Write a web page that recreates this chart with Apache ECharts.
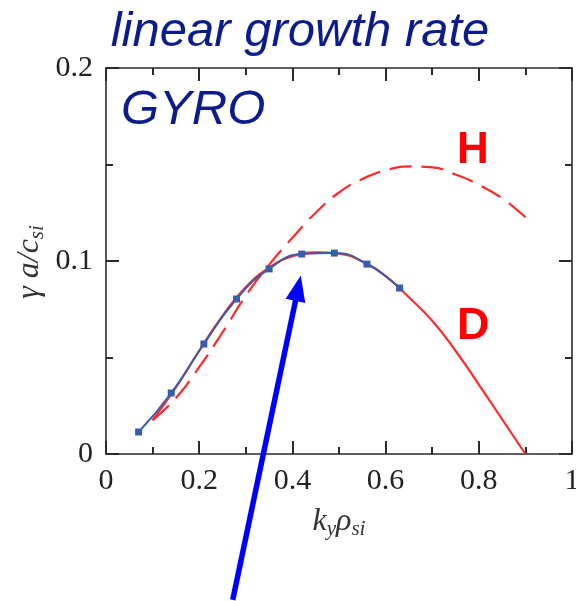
<!DOCTYPE html>
<html>
<head>
<meta charset="utf-8">
<script src="https://cdn.jsdelivr.net/npm/echarts@6/dist/echarts.min.js"></script>
<style>
html,body{margin:0;padding:0;background:#fff;}
#chart{width:576px;height:601px;}
</style>
</head>
<body>
<div id="chart"></div>
<script>
// GYRO simulation points (k_y rho_si, gamma a/c_si)
const gyroX = [0.07, 0.14, 0.21, 0.28, 0.35, 0.42, 0.49, 0.56, 0.63];
const gyroY = [0.0114, 0.0316, 0.057, 0.0803, 0.0959, 0.1036, 0.1041, 0.0984, 0.086];
// D curve (solid red)
const dX = [0.1, 0.15, 0.2, 0.25, 0.3, 0.35, 0.4, 0.45, 0.5, 0.55, 0.6, 0.65, 0.7, 0.75, 0.8, 0.85, 0.9];
const dY = [0.0175, 0.0345, 0.0535, 0.0715, 0.0865, 0.0965, 0.1025, 0.1045, 0.1038, 0.0998, 0.0922, 0.0812, 0.069, 0.0535, 0.036, 0.018, 0.0];
// H curve (dashed red)
const hX = [0.1, 0.15, 0.2, 0.25, 0.3, 0.35, 0.4, 0.45, 0.5, 0.55, 0.6, 0.65, 0.7, 0.75, 0.8, 0.85, 0.9, 0.905];
const hY = [0.0175, 0.029, 0.045, 0.063, 0.082, 0.098, 0.112, 0.125, 0.1355, 0.1425, 0.147, 0.149, 0.1485, 0.1448, 0.1395, 0.1325, 0.1228, 0.122];
// axis tick labels
const xTickLabels = ['0', '0.2', '0.4', '0.6', '0.8', '1'];
const xTickValues = [0, 0.2, 0.4, 0.6, 0.8, 1];
const yTickLabels = ['0', '0.1', '0.2'];
const yTickValues = [0, 0.1, 0.2];
// annotation arrow (data coords: tail, tip)
const arrowTail = [0.272, -0.0756];
const arrowTip = [0.418, 0.0925];

const zip = (xs, ys) => xs.map((x, i) => [x, ys[i]]);
const lookup = (vals, labels) => v => {
  for (let i = 0; i < vals.length; i++) if (Math.abs(vals[i] - v) < 1e-9) return labels[i];
  return '';
};

const serif = 'Liberation Serif';
const axisColor = '#2a2a2a';
function axisStyle() {
  return {
    axisLine: {show: true, onZero: false, lineStyle: {color: axisColor, width: 1.6}},
    axisTick: {show: true, inside: true, length: 13, lineStyle: {color: axisColor, width: 2}},
    minorTick: {show: true, splitNumber: 2, length: 7, lineStyle: {color: axisColor, width: 2}},
    splitLine: {show: false},
    minorSplitLine: {show: false}
  };
}
const nameRich = {
  i: {fontFamily: serif, fontStyle: 'italic', fontSize: 32, fill: '#333', lineHeight: 36, verticalAlign: 'middle'},
  s: {fontFamily: serif, fontStyle: 'italic', fontSize: 21, fill: '#333', lineHeight: 36, verticalAlign: 'bottom'}
};

const chart = echarts.init(document.getElementById('chart'), null, {renderer: 'canvas'});
const option = {
  animation: false,
  backgroundColor: '#fff',
  grid: {left: 106, right: 4, top: 68, bottom: 147, containLabel: false, outerBoundsMode: 'none'},
  xAxis: [
    Object.assign({
      type: 'value', position: 'bottom', min: 0, max: 1, interval: 0.2,
      axisLabel: {show: true, margin: 12, fontFamily: serif, fontSize: 30, color: '#222',
        formatter: lookup(xTickValues, xTickLabels)}
    }, axisStyle()),
    Object.assign({
      type: 'value', position: 'top', min: 0, max: 1, interval: 0.2,
      axisLabel: {show: false}
    }, axisStyle())
  ],
  yAxis: [
    Object.assign({
      type: 'value', position: 'left', min: 0, max: 0.2, interval: 0.1,
      axisLabel: {show: true, margin: 13, fontFamily: serif, fontSize: 30, color: '#222',
        formatter: lookup(yTickValues, yTickLabels)}
    }, axisStyle()),
    Object.assign({
      type: 'value', position: 'right', min: 0, max: 0.2, interval: 0.1,
      axisLabel: {show: false}
    }, axisStyle())
  ],
  series: [
    {
      name: 'H', type: 'line', smooth: 0.5, showSymbol: false, z: 2,
      data: zip(hX, hY),
      lineStyle: {color: '#ff2a2a', width: 2.2, type: [22, 10]}
    },
    {
      name: 'D', type: 'line', smooth: 0.5, showSymbol: false, z: 3,
      data: zip(dX, dY),
      lineStyle: {color: '#ff2a2a', width: 2.2}
    },
    {
      name: 'GYRO', type: 'line', smooth: 0.5, z: 4,
      symbol: 'rect', symbolSize: 7,
      data: zip(gyroX, gyroY),
      lineStyle: {color: '#3b5cab', width: 2},
      itemStyle: {color: '#3b5cab'}
    }
  ]
};
chart.setOption(option);

function drawOverlay() {
  const p0 = chart.convertToPixel({gridIndex: 0}, arrowTail);
  const p1 = chart.convertToPixel({gridIndex: 0}, arrowTip);
  const dx = p1[0] - p0[0], dy = p1[1] - p0[1];
  const L = Math.sqrt(dx * dx + dy * dy);
  const ux = dx / L, uy = dy / L;
  const head = 26, half = 10;
  const bx = p1[0] - ux * head, by = p1[1] - uy * head;
  const nx = -uy, ny = ux;
  chart.setOption({
    graphic: [
      {type: 'text', x: 300, y: 8, z: 10,
        style: {text: 'linear growth rate', fontFamily: 'Liberation Sans', fontStyle: 'italic', fontSize: 49, fill: '#0c1c8c', align: 'center', verticalAlign: 'top'}},
      {type: 'text', x: 121, y: 86, z: 10,
        style: {text: 'GYRO', fontFamily: 'Liberation Sans', fontStyle: 'italic', fontSize: 49, fill: '#0c1c8c'}},
      {type: 'text', x: 457, y: 129, z: 10,
        style: {text: 'H', fontFamily: 'Liberation Sans', fontWeight: 'bold', fontSize: 44, fill: '#ff0000'}},
      {type: 'text', x: 457, y: 304, z: 10,
        style: {text: 'D', fontFamily: 'Liberation Sans', fontWeight: 'bold', fontSize: 45, fill: '#ff0000'}},
      {type: 'text', x: 339, y: 522, z: 10,
        style: {text: '{i|k}{s|y}{i|ρ}{s|si}', rich: nameRich, align: 'center', verticalAlign: 'middle'}},
      {type: 'text', x: 30, y: 262, rotation: Math.PI / 2, z: 10,
        style: {text: '{i|γ a}{i|/}{i|c}{s|si}', rich: nameRich, align: 'center', verticalAlign: 'middle'}},
      {type: 'line', z: 20, shape: {x1: p0[0], y1: p0[1], x2: bx + ux * 2, y2: by + uy * 2},
        style: {stroke: '#0000ff', lineWidth: 5.5}},
      {type: 'polygon', z: 20,
        shape: {points: [[p1[0], p1[1]], [bx + nx * half, by + ny * half], [bx - nx * half, by - ny * half]]},
        style: {fill: '#0000ff'}}
    ]
  });
}
drawOverlay();
</script>
</body>
</html>
